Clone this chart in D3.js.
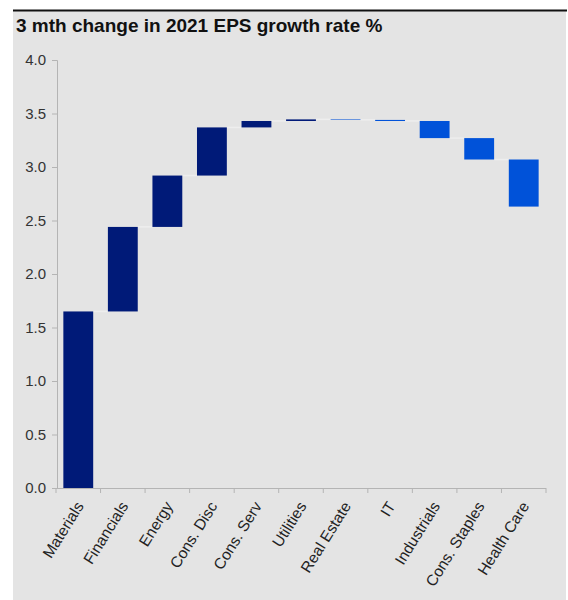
<!DOCTYPE html>
<html>
<head>
<meta charset="utf-8">
<script src="https://cdn.jsdelivr.net/npm/d3@7"></script>
<style>
  body { margin: 0; background: #fff; }
  svg { display: block; font-family: "Liberation Sans", Arial, sans-serif; }
</style>
</head>
<body>
<svg id="chart"></svg>
<script>
// sector contributions to the 3 mth change (pct points)
const sectors = ["Materials", "Financials", "Energy", "Cons. Disc", "Cons. Serv", "Utilities",
                 "Real Estate", "IT", "Industrials", "Cons. Staples", "Health Care"];
const changes = [1.65, 0.79, 0.48, 0.45, 0.06, 0.015, -0.005, -0.01, -0.16, -0.2, -0.44];
const yTicks = [0, 0.5, 1, 1.5, 2, 2.5, 3, 3.5, 4];
const titleText = "3 mth change in 2021 EPS growth rate %";

const width = 568, height = 600;
const svg = d3.select("#chart").attr("width", width).attr("height", height);

// grey panel + top rule
svg.append("rect").attr("x", 13).attr("y", 10).attr("width", 553).attr("height", 590)
    .style("fill", "#e4e4e4");
svg.append("line").attr("x1", 13).attr("x2", 567).attr("y1", 10.5).attr("y2", 10.5)
    .style("stroke", "#111").style("stroke-width", 2);
svg.append("text").attr("x", 16).attr("y", 32).text(titleText)
    .style("font-size", "19px").style("font-weight", "bold").style("fill", "#111");

// running totals
let run = 0;
const bars = sectors.map(function (s, i) {
    const start = run;
    run += changes[i];
    return {name: s, start: start, end: run, d: changes[i]};
});

const xScale = d3.scaleBand().domain(sectors).range([56, 546]).paddingInner(0.33).paddingOuter(0.165);
const yScale = d3.scaleLinear().domain([0, 4]).range([488, 60]);

// y axis
const yAxis = d3.axisLeft(yScale).tickValues(yTicks).tickFormat(d3.format(".1f")).tickSizeOuter(0).tickSize(5);
const gy = svg.append("g").attr("transform", "translate(57,0)").call(yAxis);
gy.select(".domain").style("stroke", "#b4b4b4");
gy.selectAll(".tick line").style("stroke", "#b4b4b4");
gy.selectAll(".tick text").style("font-size", "15px").style("fill", "#333")
    .style("font-family", "'Liberation Sans', Arial, sans-serif").attr("x", -11);

// x axis: line + ticks at category boundaries
const step = xScale.step();
const edges = d3.range(sectors.length + 1).map(function (i) { return 56 + i * step; });
svg.append("line").attr("x1", 56).attr("x2", 546).attr("y1", 488.5).attr("y2", 488.5)
    .style("stroke", "#b4b4b4");
svg.selectAll(".xtick").data(edges).enter().append("line")
    .attr("x1", function (d) { return d; }).attr("x2", function (d) { return d; })
    .attr("y1", 488).attr("y2", 493).style("stroke", "#b4b4b4");

// connectors
svg.selectAll(".conn").data(bars.slice(0, -1)).enter().append("line")
    .attr("x1", function (d) { return xScale(d.name) + xScale.bandwidth(); })
    .attr("x2", function (d, i) { return xScale(sectors[i + 1]); })
    .attr("y1", function (d) { return yScale(d.end); })
    .attr("y2", function (d) { return yScale(d.end); })
    .style("stroke", "#eeeeee").style("stroke-width", 1.5);

// bars
svg.selectAll(".bar").data(bars).enter().append("rect")
    .attr("x", function (d) { return xScale(d.name); })
    .attr("width", xScale.bandwidth())
    .attr("y", function (d) { return yScale(Math.max(d.start, d.end)); })
    .attr("height", function (d) { return Math.abs(yScale(d.start) - yScale(d.end)); })
    .style("fill", function (d) { return d.d >= 0 ? "#001a78" : "#0052d9"; });

// category labels
svg.selectAll(".xlab").data(sectors).enter().append("text")
    .attr("transform", function (d) {
        return "translate(" + (xScale(d) + xScale.bandwidth() / 2 + 6) + ",506) rotate(-58)";
    })
    .attr("text-anchor", "end")
    .style("font-size", "15.5px").style("fill", "#222")
    .text(function (d) { return d; });
</script>
</body>
</html>
